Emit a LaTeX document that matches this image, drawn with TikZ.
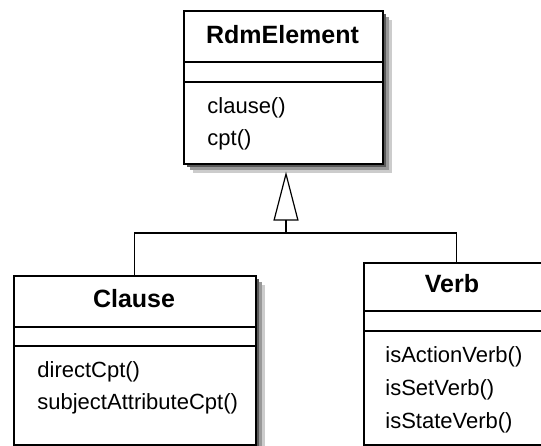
\documentclass[tikz,border=0pt]{standalone}
\usepackage{fontspec}
\setmainfont{Liberation Sans}
\usetikzlibrary{arrows.meta, positioning, shadows}

\begin{document}
\begin{tikzpicture}[
    x=0.5pt, y=-0.5pt,
    classbox/.style={rectangle, draw=black, line width=0.8pt, fill=white, anchor=north west, inner sep=0pt,
        drop shadow={shadow xshift=4.5pt, shadow yshift=-4.5pt, fill=black!20, opacity=1},
        drop shadow={shadow xshift=3pt, shadow yshift=-3pt, fill=black!40, opacity=1},
        drop shadow={shadow xshift=1.5pt, shadow yshift=-1.5pt, fill=black!65, opacity=1}},
    title/.style={font=\fontsize{12.5}{15}\selectfont\bfseries, anchor=base, inner sep=0pt},
    method/.style={font=\fontsize{11}{13}\selectfont, anchor=base west, inner sep=0pt},
    divider/.style={line width=0.8pt},
    link/.style={line width=0.6pt},
    inherit/.style={-{Triangle[open, length=24.5pt, width=12.5pt]}, line width=0.6pt, line join=miter}
]
\clip (0,0) rectangle (541,445);

% 父类
\node[classbox, minimum width=99.5pt, minimum height=76.5pt] (rdm) at (183,10) {};
\node[title] (rdmtitle) at (282.5,43) {RdmElement};
\draw[divider] (rdm.west |- 0,62) -- (rdm.east |- 0,62);
\draw[divider] (rdm.west |- 0,82) -- (rdm.east |- 0,82);
\node[method] (clausem) at (207,113) {clause()};
\node[method] (cptm) at (207,145) {cpt()};

% 子类 Clause
\node[classbox, minimum width=121pt, minimum height=84.5pt] (clause) at (13,275) {};
\node[title] (clausetitle) at (134,307) {Clause};
\draw[divider] (clause.west |- 0,327) -- (clause.east |- 0,327);
\draw[divider] (clause.west |- 0,346) -- (clause.east |- 0,346);
\node[method] (directm) at (37,377) {directCpt()};
\node[method] (subjectm) at (37,409) {subjectAttributeCpt()};

% 子类 Verb
\node[classbox, minimum width=92.5pt, minimum height=91pt] (verb) at (363,262) {};
\node[title] (verbtitle) at (452,292) {Verb};
\draw[divider] (verb.west |- 0,311) -- (verb.east |- 0,311);
\draw[divider] (verb.west |- 0,331) -- (verb.east |- 0,331);
\node[method] (actionm) at (385,362) {isActionVerb()};
\node[method] (setm) at (385,395) {isSetVerb()};
\node[method] (statem) at (385,428) {isStateVerb()};

% 继承关系
\coordinate (join) at (286,233);
\draw[link] (clause.north) |- (join) -| (verb.north);
\draw[inherit, shorten >=3.5pt] (join) -- (join |- rdm.south);

\end{tikzpicture}
\end{document}
